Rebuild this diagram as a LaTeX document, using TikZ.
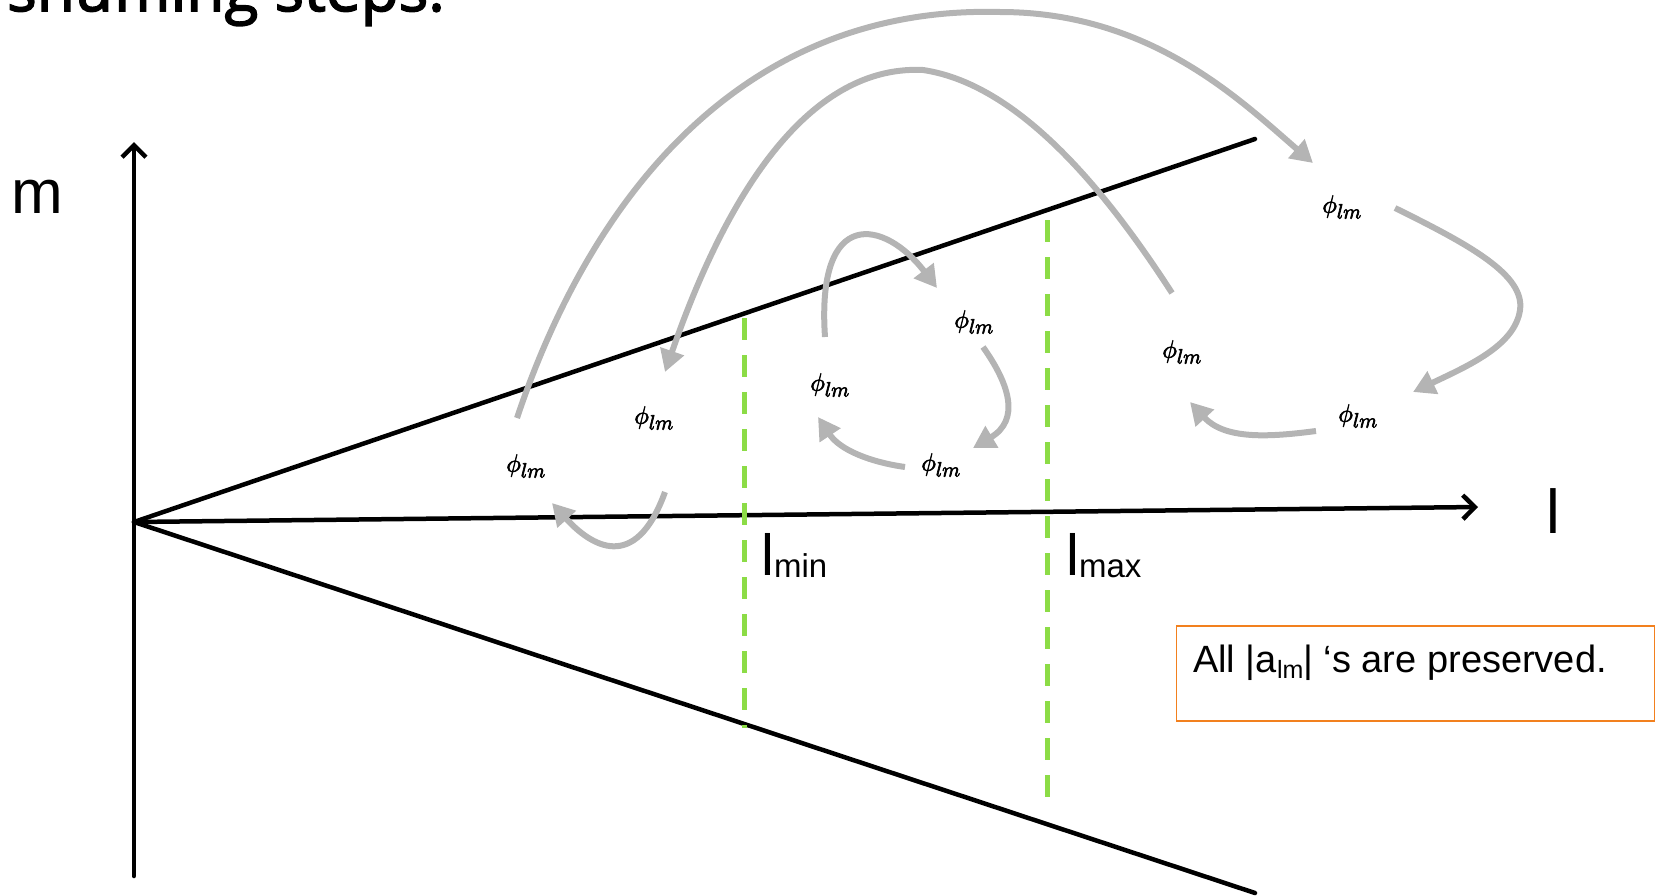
\documentclass[tikz,border=0pt]{standalone}
\usepackage{fontspec}
\setmainfont{Liberation Sans}
\newfontfamily\titlefont[FakeBold=2.5]{Open Sans}
\usetikzlibrary{arrows.meta}
\definecolor{shufgray}{RGB}{180,180,180}
\definecolor{limgreen}{RGB}{140,220,70}
\definecolor{boxorange}{RGB}{242,128,30}
\newcommand{\philm}{\special{pdf:literal direct 2 Tr 0.7 w}$\phi_{lm}$\special{pdf:literal direct 0 Tr}}
\begin{document}
\begin{tikzpicture}[x=1pt,y=-1pt,
  axisline/.style={line width=4.5pt, line cap=round},
  axisarrow/.style={axisline, -{Straight Barb[length=12pt,width=24pt]}},
  limline/.style={limgreen, line width=5pt, dash pattern=on 22pt off 15pt},
  shuf/.style={shufgray, line width=6pt, -{Triangle[length=22pt,width=24pt]}},
  philabel/.style={inner sep=0pt, font=\fontsize{30}{30}\selectfont},
  biglabel/.style={inner sep=0pt, anchor=base west, font=\fontsize{62}{62}\selectfont},
  limlabel/.style={inner sep=0pt, anchor=base west, font=\fontsize{58}{58}\selectfont},
]
\useasboundingbox (0,0) rectangle (1655,895);

% title (cut off at top)
\node[inner sep=0pt, anchor=base west, font=\titlefont\fontsize{62}{62}\selectfont] (title) at (7,11) {shuffling steps.};

% axes
\coordinate (O) at (134,522);
\coordinate (mbot) at (134,876);
\coordinate (mtop) at (134,142);
\coordinate (ltip) at (1478,507);
\coordinate (up) at (1255,139);
\coordinate (down) at (1255,893);
\draw[axisarrow] (mbot) -- (mtop);
\draw[axisarrow] (O) -- (ltip);
\draw[axisline] (O) -- (up);
\draw[axisline] (O) -- (down);

\node[biglabel] (mlab) at (11,213) {m};
\node[biglabel] (llab) at (1546,533) {l};

% l_min / l_max
\coordinate (mintop) at (744,318);
\coordinate (minbot) at (744,728);
\coordinate (maxtop) at (1047,220);
\coordinate (maxbot) at (1047,802);
\draw[limline] (mintop) -- (minbot);
\draw[limline] (maxtop) -- (maxbot);
\node[limlabel] (lmin) at (761,575) {l\raisebox{-2pt}{\fontsize{33}{33}\selectfont min}};
\node[limlabel] (lmax) at (1066,575) {l\raisebox{-2pt}{\fontsize{33}{33}\selectfont max}};

% phi labels
\node[philabel] (p1) at (526,466) {\philm};
\node[philabel] (p2) at (654,418) {\philm};
\node[philabel] (p3) at (830,385) {\philm};
\node[philabel] (p4) at (974,322) {\philm};
\node[philabel] (p5) at (941,465) {\philm};
\node[philabel] (p6) at (1182,352) {\philm};
\node[philabel] (p7) at (1342,207) {\philm};
\node[philabel] (p8) at (1358,416) {\philm};

% arrow end points
\coordinate (a1s) at (517,418);  \coordinate (a1e) at (1313,163);
\coordinate (a2s) at (1172,293); \coordinate (a2e) at (665,372);
\coordinate (a3s) at (825,337);  \coordinate (a3e) at (937,288);
\coordinate (a4s) at (983,347);  \coordinate (a4e) at (973,448);
\coordinate (a5s) at (905,467);  \coordinate (a5e) at (818,417);
\coordinate (a6s) at (665,492);  \coordinate (a6e) at (552,503);
\coordinate (a7s) at (1395,208); \coordinate (a7e) at (1413,392);
\coordinate (a8s) at (1316,431); \coordinate (a8e) at (1190,402);

\draw[shuf] (a1s) .. controls (590,200) and (740,5) .. (1000,12) .. controls (1150,12) and (1240,100) .. (a1e);
\draw[shuf] (a2s) .. controls (1115,205) and (1025,85) .. (923,70) .. controls (820,65) and (735,170) .. (a2e);
\draw[shuf] (a3s) .. controls (816,205) and (885,220) .. (a3e);
\draw[shuf] (a4s) .. controls (1010,385) and (1020,420) .. (a4e);
\draw[shuf] (a5s) .. controls (870,462) and (840,450) .. (a5e);
\draw[shuf] (a6s) .. controls (635,575) and (590,545) .. (a6e);
\draw[shuf] (a7s) .. controls (1470,245) and (1525,275) .. (1520,310) .. controls (1515,345) and (1470,365) .. (a7e);
\draw[shuf] (a8s) .. controls (1270,437) and (1225,440) .. (a8e);

% note box
\node[draw=boxorange, line width=1.5pt, anchor=north west, minimum width=478pt, minimum height=95pt, inner sep=0pt] (box) at (1175.5,625) {};
\node[inner sep=0pt, anchor=base west, font=\fontsize{38}{38}\selectfont] (boxtext) at (1193,672) {All |a\raisebox{-6pt}{\fontsize{25}{25}\selectfont lm}| ‘s are preserved.};
\end{tikzpicture}
\end{document}
